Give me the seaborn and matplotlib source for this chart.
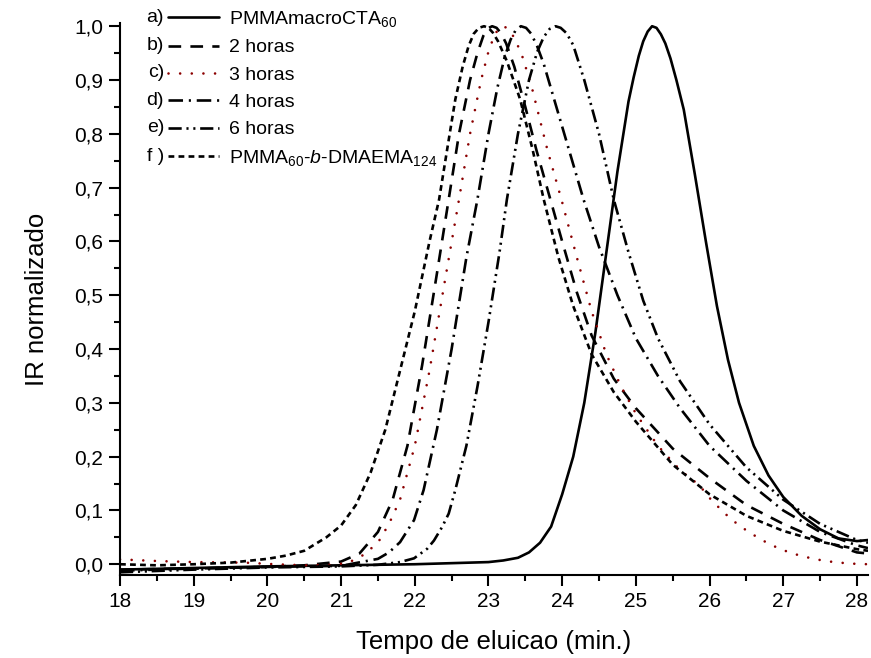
import matplotlib
matplotlib.use("Agg")
import matplotlib.pyplot as plt
import numpy as np
import pandas as pd
import seaborn as sns
from matplotlib.ticker import MultipleLocator, FuncFormatter

# ---------------- data ----------------
letters = ["a)", "b)", "c)", "d)", "e)", "f )"]
labels = ["PMMAmacroCTA$_{60}$", "2 horas", "3 horas", "4 horas", "6 horas",
          "PMMA$_{60}$-$\\mathit{b}$-DMAEMA$_{124}$"]

a_x = [18.0, 19.0, 20.0, 21.0, 22.0, 22.5, 23.0, 23.2, 23.4, 23.55, 23.7, 23.85,
       24.0, 24.15, 24.3, 24.45, 24.6, 24.75, 24.9, 24.97, 25.04, 25.1, 25.16, 25.22,
       25.28, 25.34, 25.4, 25.47, 25.55, 25.65, 25.8, 25.95, 26.1, 26.25, 26.4, 26.6,
       26.8, 27.0, 27.25, 27.5, 27.75, 28.0, 28.15]
a_y = [-0.010, -0.007, -0.004, -0.002, 0.0, 0.002, 0.004, 0.007, 0.012, 0.022, 0.04, 0.07,
       0.13, 0.2, 0.3, 0.43, 0.58, 0.73, 0.86, 0.905, 0.945, 0.972, 0.99, 1.0,
       0.997, 0.985, 0.968, 0.94, 0.9, 0.845, 0.725, 0.60, 0.48, 0.38, 0.30, 0.22,
       0.165, 0.125, 0.09, 0.065, 0.048, 0.043, 0.045]

b_x = [18.0, 19.0, 20.0, 20.5, 21.0, 21.25, 21.5, 21.7, 21.9, 22.1, 22.3, 22.46, 22.6,
       22.75, 22.85, 22.93, 22.99, 23.05, 23.11, 23.17, 23.24, 23.35, 23.5, 23.65, 23.84,
       24.0, 24.2, 24.4, 24.7, 25.0, 25.5, 26.0, 26.5, 27.0, 27.5, 28.0, 28.15]
b_y = [-0.010, -0.008, -0.005, -0.002, 0.005, 0.02, 0.06, 0.12, 0.22, 0.37, 0.54, 0.678, 0.8,
       0.9, 0.95, 0.982, 0.996, 1.0, 0.997, 0.987, 0.968, 0.925, 0.85, 0.77, 0.678,
       0.6, 0.505, 0.425, 0.345, 0.29, 0.215, 0.16, 0.11, 0.075, 0.045, 0.022, 0.02]

c_x = [18.0, 18.5, 19.0, 19.7, 20.1, 20.5, 20.9, 21.1, 21.3, 21.5, 21.65, 21.8, 22.0,
       22.2, 22.4, 22.6, 22.75, 22.9, 23.0, 23.08, 23.14, 23.19, 23.25, 23.31, 23.38,
       23.47, 23.6, 23.8, 23.99, 24.2, 24.4, 24.6, 24.8, 25.0, 25.3, 25.6, 25.86,
       26.02, 26.21, 26.4, 26.59, 26.79, 26.98, 27.18, 27.38, 27.57, 27.76, 27.95, 28.15]
c_y = [0.009, 0.006, 0.004, 0.003, 0.0, -0.002, -0.001, 0.003, 0.017, 0.04, 0.075, 0.12, 0.22,
       0.36, 0.52, 0.678, 0.8, 0.9, 0.953, 0.983, 0.996, 1.0, 0.997, 0.988, 0.97,
       0.94, 0.88, 0.77, 0.678, 0.57, 0.47, 0.39, 0.33, 0.28, 0.22, 0.175, 0.147,
       0.12, 0.094, 0.072, 0.055, 0.039, 0.027, 0.018, 0.011, 0.006, 0.003, 0.001, 0.0]

d_x = [18.0, 19.0, 20.0, 21.0, 21.5, 21.65, 21.8, 21.99, 22.12, 22.3, 22.5, 22.7, 22.85,
       23.0, 23.12, 23.22, 23.3, 23.37, 23.44, 23.51, 23.58, 23.66, 23.75, 23.9, 24.05,
       24.29, 24.5, 24.75, 25.0, 25.3, 25.6, 26.0, 26.5, 27.0, 27.5, 28.0, 28.15]
d_y = [-0.012, -0.008, -0.005, -0.003, 0.01, 0.022, 0.041, 0.082, 0.138, 0.25, 0.4, 0.57, 0.678,
       0.8, 0.885, 0.943, 0.975, 0.993, 1.0, 0.997, 0.986, 0.963, 0.93, 0.86, 0.79,
       0.678, 0.59, 0.5, 0.42, 0.35, 0.29, 0.22, 0.155, 0.1, 0.06, 0.035, 0.03]

e_x = [18.0, 19.0, 20.0, 21.0, 21.5, 21.8, 21.99, 22.17, 22.26, 22.37, 22.46, 22.55, 22.7,
       22.85, 23.0, 23.15, 23.25, 23.4, 23.55, 23.66, 23.75, 23.83, 23.91, 23.98, 24.06,
       24.15, 24.3, 24.5, 24.7, 24.9, 25.1, 25.3, 25.6, 26.0, 26.5, 27.0, 27.5, 28.0, 28.15]
e_y = [-0.015, -0.010, -0.006, -0.004, -0.001, 0.004, 0.011, 0.029, 0.044, 0.069, 0.094, 0.138, 0.22,
       0.33, 0.45, 0.58, 0.678, 0.8, 0.9, 0.952, 0.98, 0.995, 1.0, 0.997, 0.987,
       0.965, 0.9, 0.8, 0.678, 0.58, 0.49, 0.42, 0.34, 0.26, 0.18, 0.12, 0.075, 0.045, 0.04]

f_x = [18.0, 18.5, 19.0, 19.5, 20.0, 20.25, 20.5, 20.8, 21.0, 21.2, 21.4, 21.6, 21.8,
       22.0, 22.2, 22.33, 22.45, 22.55, 22.65, 22.73, 22.8, 22.87, 22.94, 23.0, 23.06,
       23.13, 23.25, 23.43, 23.6, 23.75, 23.95, 24.15, 24.4, 24.7, 25.0, 25.5, 26.0,
       26.5, 27.0, 27.5, 28.0, 28.15]
f_y = [0.0, -0.002, 0.0, 0.003, 0.01, 0.016, 0.025, 0.05, 0.072, 0.11, 0.17, 0.25, 0.36,
       0.47, 0.6, 0.678, 0.78, 0.864, 0.925, 0.963, 0.986, 0.997, 1.0, 0.997, 0.988,
       0.972, 0.935, 0.864, 0.77, 0.678, 0.57, 0.48, 0.39, 0.32, 0.265, 0.185, 0.13,
       0.09, 0.062, 0.042, 0.028, 0.025]

xs = [a_x, b_x, c_x, d_x, e_x, f_x]
ys = [a_y, b_y, c_y, d_y, e_y, f_y]

colors = ["black", "black", "#8B0000", "black", "black", "black"]
dash_styles = ["", (4.8, 3.5), (0.01, 4.4), (5.5, 2.2, 0.8, 2.2),
               (5.0, 1.8, 0.8, 1.8, 0.8, 1.8), (2.2, 1.6)]

# ---------------- build the frame ----------------
frames = []
for lab, x, y in zip(labels, xs, ys):
    frames.append(pd.DataFrame({"t": x, "ir": y, "serie": lab}))
df = pd.concat(frames, ignore_index=True)

sns.set_theme(style="ticks")
plt.rcParams['font.family'] = ['Liberation Sans', 'DejaVu Sans']
plt.rcParams['mathtext.fontset'] = 'custom'
plt.rcParams['mathtext.rm'] = 'Liberation Sans'
plt.rcParams['mathtext.it'] = 'Liberation Sans:italic'
plt.rcParams['mathtext.bf'] = 'Liberation Sans:bold'
plt.rcParams['text.color'] = 'black'
plt.rcParams['axes.labelcolor'] = 'black'

W, H = 871, 658
fig = plt.figure(figsize=(W / 100, H / 100), dpi=100)
ax = fig.add_axes([120 / W, 83 / H, 748 / W, 552 / H])

sns.lineplot(data=df, x="t", y="ir", hue="serie", style="serie",
             hue_order=labels, style_order=labels,
             palette=dict(zip(labels, colors)),
             dashes=dict(zip(labels, dash_styles)),
             sort=False, estimator=None, linewidth=1.9, legend=False, ax=ax)

for ln in ax.get_lines():
    ln.set_dash_capstyle("round" if ln.get_color() == "#8B0000" else "butt")
    ln.set_solid_joinstyle("round")
    ln.set_dash_joinstyle("round")

ax.set_xlim(18, 28.15)
ax.set_ylim(-0.02, 1.006)
ax.xaxis.set_major_locator(MultipleLocator(1))
ax.xaxis.set_minor_locator(MultipleLocator(0.5))
ax.yaxis.set_major_locator(MultipleLocator(0.1))
ax.yaxis.set_minor_locator(MultipleLocator(0.05))
ax.yaxis.set_major_formatter(FuncFormatter(lambda v, p: f"{v:.1f}".replace(".", ",").replace("-0,0", "0,0")))
ax.xaxis.set_major_formatter(FuncFormatter(lambda v, p: f"{v:.0f}"))

for s in ["top", "right"]:
    ax.spines[s].set_visible(False)
for s in ["left", "bottom"]:
    ax.spines[s].set_linewidth(1.5)
    ax.spines[s].set_color("black")
ax.tick_params(which="major", direction="out", length=8, width=1.5, labelsize=15,
               colors="black", labelcolor="black", pad=4)
ax.tick_params(which="minor", direction="out", length=4.5, width=1.5, colors="black")
ax.set_facecolor("white")
fig.patch.set_facecolor("white")

ax.set_xlabel("Tempo de eluicao (min.)", fontsize=18.5, labelpad=14, color="black")
ax.set_ylabel("IR normalizado", fontsize=18.5, labelpad=18, color="black")

handles = ax.get_lines()[:6]
leg = ax.legend(handles, labels, loc="upper left",
                bbox_to_anchor=(168 / W, 1 - 9 / H), bbox_transform=fig.transFigure,
                frameon=False, fontsize=14, handlelength=2.6, handletextpad=0.55,
                labelspacing=0.5, borderpad=0, borderaxespad=0)
for t in leg.get_texts():
    t.set_color("black")

fig.canvas.draw()
for lh, letter in zip(leg.get_lines(), letters):
    bb = lh.get_window_extent(fig.canvas.get_renderer())
    yc = (bb.y0 + bb.y1) / 2
    fig.text((bb.x0 - 4) / W, yc / H, letter, ha="right", va="center", fontsize=14,
             color="black")

fig.savefig("out.png", dpi=100, facecolor="white")
